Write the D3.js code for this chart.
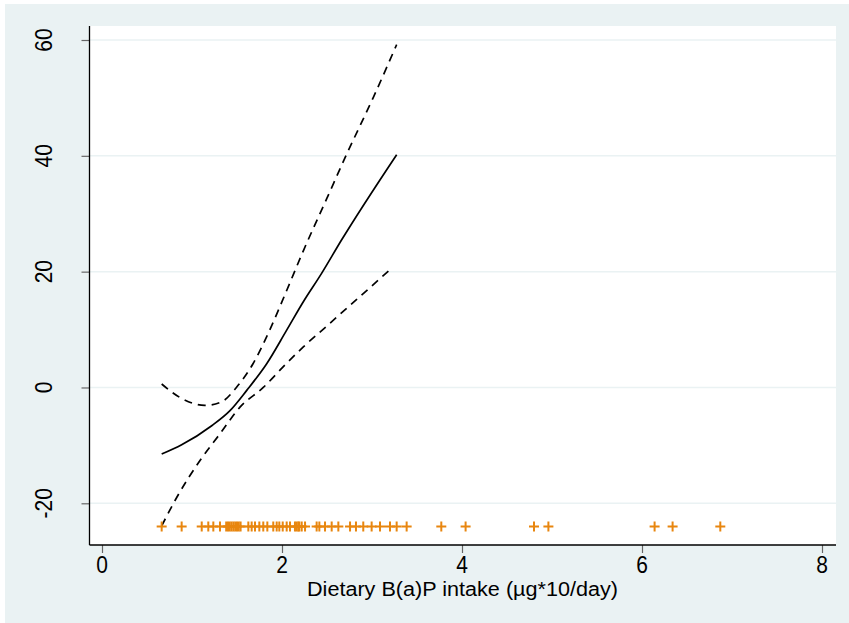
<!DOCTYPE html>
<html><head><meta charset="utf-8">
<script src="https://cdn.jsdelivr.net/npm/d3@7"></script>
<style>body{margin:0;background:#fff;} svg{display:block;}</style>
</head><body>
<svg id="chart" width="849" height="623"></svg>
<script>
// ---- data ----
const fitX   = [0.663, 0.885, 1.219, 1.422, 1.608, 1.83, 2.052, 2.237, 2.44, 2.663, 3.274];
const fitY   = [-11.5, -9.9, -6.6, -4.0, -0.5, 4.1, 9.9, 14.8, 19.7, 25.5, 40.2];
const upperX = [0.663, 0.863, 1.141, 1.326, 1.493, 1.678, 1.863, 2.048, 2.237, 2.497, 2.719, 3.015, 3.274];
const upperY = [0.6, -1.7, -3.1, -2.5, 0.0, 4.1, 9.9, 16.6, 23.6, 32.6, 40.3, 50.1, 59.2];
const lowerX = [0.663, 0.83, 1.089, 1.311, 1.533, 1.792, 2.015, 2.237, 2.497, 2.83, 3.219];
const lowerY = [-23.9, -19.0, -12.6, -8.0, -3.4, 0.0, 3.6, 7.0, 10.6, 15.2, 20.6];
const rugX = [0.663, 0.885, 1.108, 1.181, 1.237, 1.311, 1.38, 1.40, 1.42, 1.44, 1.46, 1.48, 1.50, 1.52, 1.54,
  1.626, 1.663, 1.70, 1.748, 1.792, 1.837, 1.903, 1.941, 1.97, 2.008, 2.052, 2.089, 2.144, 2.163, 2.181,
  2.192, 2.219, 2.256, 2.385, 2.415, 2.478, 2.552, 2.626, 2.756, 2.822, 2.903, 2.996, 3.089, 3.20, 3.274,
  3.385, 3.77, 4.04, 4.80, 4.96, 6.14, 6.34, 6.87];
const rugY = -24;
const xTicks = [0, 2, 4, 6, 8];
const yTicks = [-20, 0, 20, 40, 60];
const xTitle = "Dietary B(a)P intake (µg*10/day)";

// ---- layout ----
const svg = d3.select("#chart");
const font = "'Liberation Sans', Arial, sans-serif";
const fs = 21;
const plot = {left: 89.5, right: 836, top: 26, bottom: 545};
const x = d3.scaleLinear().domain([0, 8]).range([102, 822]);
const y = d3.scaleLinear().domain([-20, 60]).range([503.3, 40]);

svg.append("rect").attr("x", 5).attr("y", 4).attr("width", 844).attr("height", 619).attr("fill", "#eaf2f3");
svg.append("rect").attr("x", plot.left).attr("y", plot.top)
  .attr("width", plot.right - plot.left).attr("height", plot.bottom - plot.top).attr("fill", "#ffffff");

// gridlines
svg.append("g").selectAll("line").data(yTicks).join("line")
  .attr("x1", plot.left).attr("x2", plot.right)
  .attr("y1", d => y(d)).attr("y2", d => y(d))
  .attr("stroke", "#eaf2f3").attr("stroke-width", 1.5);

// axes
const yAxis = svg.append("g").attr("transform", `translate(${plot.left},0)`)
  .call(d3.axisLeft(y).tickValues(yTicks).tickSize(8).tickFormat(d3.format("d")));
yAxis.select(".domain").remove();
yAxis.selectAll(".tick line").attr("stroke", "#666").attr("stroke-width", 1.2);
yAxis.selectAll(".tick text").remove();
svg.append("g").selectAll("text").data(yTicks).join("text")
  .attr("transform", d => `translate(52,${y(d)}) rotate(-90) scale(1,1.1)`)
  .attr("text-anchor", "middle")
  .attr("font-family", font).attr("font-size", fs).attr("fill", "#000")
  .text(d => d);

const xAxis = svg.append("g").attr("transform", `translate(0,${plot.bottom})`)
  .call(d3.axisBottom(x).tickValues(xTicks).tickSize(8).tickFormat(d3.format("d")));
xAxis.select(".domain").remove();
xAxis.selectAll(".tick line").attr("stroke", "#666").attr("stroke-width", 1.2);
xAxis.selectAll(".tick text").remove();
svg.append("g").selectAll("text").data(xTicks).join("text")
  .attr("transform", d => `translate(${x(d)},572.5) scale(1,1.1)`)
  .attr("text-anchor", "middle")
  .attr("font-family", font).attr("font-size", fs).attr("fill", "#000")
  .text(d => d);

svg.append("line").attr("x1", plot.left).attr("x2", plot.left).attr("y1", plot.top).attr("y2", plot.bottom)
  .attr("stroke", "#000").attr("stroke-width", 1.3);
svg.append("line").attr("x1", plot.left).attr("x2", plot.right).attr("y1", plot.bottom).attr("y2", plot.bottom)
  .attr("stroke", "#000").attr("stroke-width", 1.3);

svg.append("text").attr("x", 307).attr("y", 596).attr("text-anchor", "start")
  .attr("textLength", 311).attr("lengthAdjust", "spacingAndGlyphs")
  .attr("font-family", font).attr("font-size", 20).attr("fill", "#000").text(xTitle);

// lines
const line = d3.line().x(d => x(d[0])).y(d => y(d[1])).curve(d3.curveMonotoneX);
const mk = (xs, ys) => xs.map((v, i) => [v, ys[i]]);
svg.append("path").datum(mk(upperX, upperY)).attr("d", line)
  .attr("fill", "none").attr("stroke", "#000").attr("stroke-width", 1.7).attr("stroke-dasharray", "8,6");
svg.append("path").datum(mk(lowerX, lowerY)).attr("d", line)
  .attr("fill", "none").attr("stroke", "#000").attr("stroke-width", 1.7).attr("stroke-dasharray", "8,6");
svg.append("path").datum(mk(fitX, fitY)).attr("d", line)
  .attr("fill", "none").attr("stroke", "#000").attr("stroke-width", 1.7);

// rug markers
svg.append("g").selectAll("path").data(rugX).join("path")
  .attr("d", d => { const cx = x(d), cy = y(rugY), r = 5;
    return `M${cx - r},${cy}H${cx + r}M${cx},${cy - r}V${cy + r}`; })
  .attr("stroke", "#e8860f").attr("stroke-width", 2).attr("fill", "none");
</script>
</body></html>
